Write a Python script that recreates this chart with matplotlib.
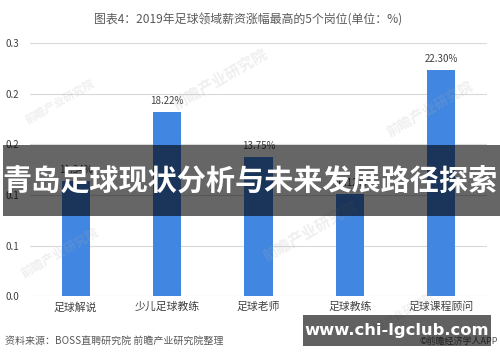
import matplotlib
matplotlib.use('Agg')
import matplotlib.pyplot as plt
from matplotlib.patches import Rectangle

plt.rcParams['font.family'] = ['Noto Sans CJK SC', 'DejaVu Sans']

categories = ['足球解说', '少儿足球教练', '足球老师', '足球教练', '足球课程顾问']
values = [0.1134, 0.1822, 0.1375, 0.1012, 0.2230]
value_labels = ['11.34%', '18.22%', '13.75%', '10.12%', '22.30%']
yticks = [0.0, 0.05, 0.10, 0.15, 0.20, 0.25]
ytick_labels = ['0.0', '0.1', '0.1', '0.2', '0.2', '0.3']

fig = plt.figure(figsize=(5, 3.62), dpi=100)
ax = fig.add_axes([0.06, 0.182, 0.914, 0.699])

x = range(len(categories))
ax.bar(x, values, width=0.31, color='#4186e0', zorder=3)
for i, v in enumerate(values):
    ax.text(i, v + 0.006, value_labels[i], ha='center', va='bottom',
            fontsize=7, color='#404040', zorder=4)

ax.set_xlim(-0.5, 4.5)
ax.set_ylim(0, 0.25)
ax.set_yticks(yticks)
ax.set_yticklabels(ytick_labels, fontsize=7, color='#404040')
ax.set_xticks(list(x))
ax.set_xticklabels(categories, fontsize=7.8, color='#404040')
ax.tick_params(length=0, pad=8)
ax.tick_params(axis='x', pad=4)
ax.grid(axis='y', color='#d9d9d9', linewidth=0.8, zorder=0)
for s in ax.spines.values():
    s.set_visible(False)

fig.text(0.496, 0.945, '图表4：2019年足球领域薪资涨幅最高的5个岗位(单位：%)',
         ha='center', va='center', fontsize=8.6, color='#595959')

# faint watermarks
marks = [(0.12, 0.72, 8), (0.44, 0.78, 11), (0.86, 0.70, 10), (0.62, 0.36, 11),
         (0.12, 0.30, 9), (0.80, 0.13, 8)]
for mx, my, fs in marks:
    fig.text(mx, my, '前瞻产业研究院', ha='center', va='center', fontsize=fs,
             color='#b0b0b0', alpha=0.2, rotation=30, fontweight='bold')

fig.text(0.01, 0.058, '资料来源：BOSS直聘研究院 前瞻产业研究院整理', ha='left', va='center',
         fontsize=7.2, color='#595959', style='italic')
fig.text(0.995, 0.058, '©前瞻经济学人APP', ha='right', va='center',
         fontsize=6.5, color='#595959')

# overlay banner
fig.add_artist(Rectangle((0.006, 0.403), 0.994, 0.196, transform=fig.transFigure,
                         facecolor='black', alpha=0.6, edgecolor='none', zorder=10))
fig.text(0.5, 0.497, '青岛足球现状分析与未来发展路径探索', ha='center', va='center',
         fontsize=21, color='white', fontweight='bold', zorder=11)

# bottom url box
fig.add_artist(Rectangle((0.606, 0.044), 0.376, 0.086, transform=fig.transFigure,
                         facecolor='black', alpha=0.62, edgecolor='none', zorder=10))
fig.text(0.794, 0.086, 'www.chi-lgclub.com', ha='center', va='center',
         fontsize=11.8, color='white', fontweight='bold', zorder=11,
         family='DejaVu Sans')

fig.savefig('out.png', dpi=100)
